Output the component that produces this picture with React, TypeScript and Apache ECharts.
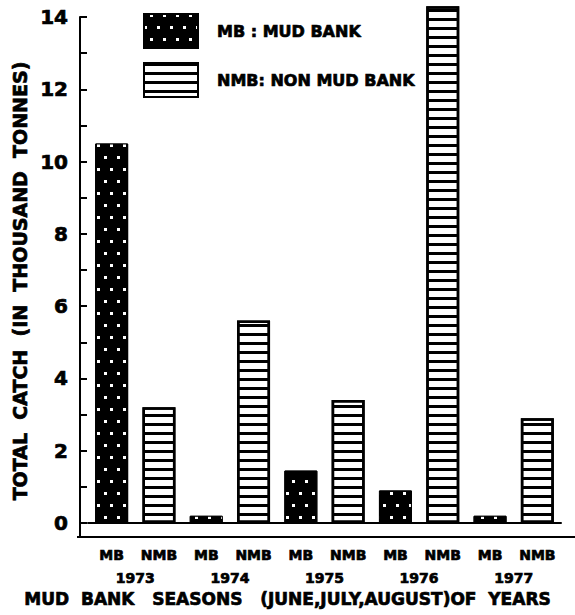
import React, { useEffect, useRef } from "react";
import * as echarts from "echarts";

const categories = ["MB", "NMB", "MB", "NMB", "MB", "NMB", "MB", "NMB", "MB", "NMB"];
const years = ["1973", "1974", "1975", "1976", "1977"];
const mbValues = [10.5, 0.2, 1.45, 0.9, 0.2];
const nmbValues = [3.2, 5.6, 3.4, 14.3, 2.9];
const yTicks = [0, 2, 4, 6, 8, 10, 12, 14];

const FONT = "DejaVu Sans";
const heavy = { fontFamily: FONT, fontWeight: "bold", color: "#000", textBorderColor: "#000", textBorderWidth: 0.7 };

export default function App() {
  const ref = useRef<HTMLDivElement>(null);
  useEffect(() => {
    document.body.style.margin = "0";
    const chart = echarts.init(ref.current!, null, { renderer: "svg" });
    const mbData = categories.map((c, i) => (i % 2 === 0 ? mbValues[i / 2] : "-"));
    const nmbData = categories.map((c, i) => (i % 2 === 1 ? nmbValues[(i - 1) / 2] : "-"));
    chart.setOption({
      animation: false,
      backgroundColor: "#fff",
      textStyle: { fontFamily: FONT, color: "#000" },
      grid: { left: 88, right: 14, top: 17, bottom: 92 },
      title: {
        text: "MUD  BANK   SEASONS   (JUNE,JULY,AUGUST)OF  YEARS",
        left: "center",
        top: 589,
        padding: 0,
        textStyle: { ...heavy, fontSize: 17, lineHeight: 20 },
      },
      legend: {
        orient: "vertical",
        left: 143,
        top: 13,
        padding: 0,
        itemWidth: 54,
        itemHeight: 34,
        itemGap: 13,
        icon: "rect",
        data: ["MB", "NMB"],
        formatter: (n: string) => (n === "MB" ? "MB : MUD BANK" : "NMB: NON MUD BANK"),
        textStyle: { ...heavy, fontSize: 16, padding: [0, 0, 0, 14] },
      },
      xAxis: [
        {
          type: "category",
          data: categories,
          position: "bottom",
          offset: 14,
          axisLine: { lineStyle: { color: "#000", width: 2 } },
          axisTick: { alignWithLabel: true, inside: true, length: 6, lineStyle: { color: "#000", width: 2 } },
          axisLabel: { ...heavy, fontSize: 14, margin: 10, lineHeight: 16 },
        },
        {
          type: "category",
          data: years,
          position: "bottom",
          offset: 14,
          axisLine: { show: false },
          axisTick: { show: false },
          axisLabel: { ...heavy, fontSize: 14, margin: 33, lineHeight: 16 },
        },
      ],
      yAxis: {
        type: "value",
        min: 0,
        max: 14,
        interval: 1,
        offset: 8,
        splitLine: { show: false },
        axisLine: { show: true, lineStyle: { color: "#000", width: 2 } },
        axisTick: { show: true, inside: true, length: 7, lineStyle: { color: "#000", width: 2 } },
        axisLabel: {
          ...heavy,
          fontSize: 20,
          margin: 12,
          formatter: (v: number) => (yTicks.includes(v) ? String(v) : ""),
        },
      },
      graphic: [
        {
          type: "text",
          x: 20,
          y: 281,
          rotation: Math.PI / 2,
          style: {
            text: "TOTAL  CATCH  (IN  THOUSAND  TONNES)",
            fontFamily: FONT,
            fontWeight: "bold",
            fontSize: 19,
            fill: "#000",
            stroke: "#000",
            lineWidth: 0.7,
            textAlign: "center",
            textVerticalAlign: "middle",
          },
        },
        { type: "line", shape: { x1: 77, y1: 537, x2: 575, y2: 537 }, style: { stroke: "#000", lineWidth: 2 } },
        { type: "line", shape: { x1: 80, y1: 520, x2: 80, y2: 537 }, style: { stroke: "#000", lineWidth: 2 } },
      ],
      series: [
        {
          name: "MB",
          type: "bar",
          data: mbData,
          barWidth: 33,
          barGap: "-100%",
          clip: false,
          itemStyle: {
            color: "#000",
            borderColor: "#000",
            borderWidth: 1,
            decal: {
              symbol: "rect",
              symbolSize: 1,
              color: "#fff",
              dashArrayX: [[3, 10], [0, 6, 3, 4]],
              dashArrayY: [3, 9],
              rotation: 0,
            },
          },
        },
        {
          name: "NMB",
          type: "bar",
          data: nmbData,
          barWidth: 33,
          barGap: "-100%",
          clip: false,
          itemStyle: {
            color: "#fff",
            borderColor: "#000",
            borderWidth: 2.5,
            decal: {
              symbol: "rect",
              symbolSize: 1,
              color: "#000",
              dashArrayX: [1, 0],
              dashArrayY: [3, 6],
              rotation: 0,
            },
          },
        },
      ],
    });
    return () => chart.dispose();
  }, []);
  return <div ref={ref} style={{ width: 575, height: 615 }} />;
}
